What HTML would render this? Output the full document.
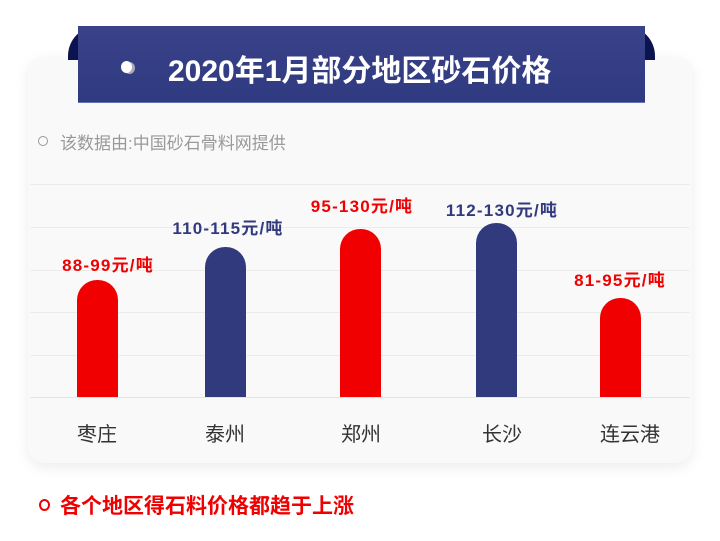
<!DOCTYPE html>
<html><head><meta charset="utf-8"><style>
body{margin:0;width:720px;height:541px;background:#fff;position:relative;overflow:hidden;font-family:"Liberation Sans","Noto Sans CJK SC",sans-serif}
.card{position:absolute;left:28px;top:57px;width:664px;height:406px;border-radius:16px;background:#f9f9f9;box-shadow:0 4px 14px rgba(0,0,0,0.08)}
.flap{position:absolute;top:26px;width:40px;height:34px;background:#0b1450}
.banner{position:absolute;left:78px;top:26px;width:567px;height:76px;background:linear-gradient(#3a4288,#2f3a80);border-bottom:1px solid #6870b0}
.title{position:absolute;left:168px;top:46px;color:#fff;font-size:30px;font-weight:bold;letter-spacing:0px}
.dot{position:absolute;left:121px;top:61px;width:11px;height:12px;border-radius:50%;background:#fff;box-shadow:3px 1px 0 #aab}
.grid{position:absolute;left:30px;width:660px;height:1px;background:#ececec}
.bar{position:absolute;width:41px;border-radius:20px 20px 0 0}
.r{background:#f00000}.b{background:#323a7e}
.lab{position:absolute;font-size:17px;font-weight:bold;width:180px;text-align:center;letter-spacing:1.2px}
.x{position:absolute;top:418px;font-size:20px;color:#333;width:120px;text-align:center}
</style></head><body>
<div class="card"></div>
<div class="flap" style="left:68px;border-radius:30px 0 0 0"></div>
<div class="flap" style="left:615px;border-radius:0 30px 0 0"></div>
<div class="banner"></div>
<div class="dot"></div>
<div class="title">2020年1月部分地区砂石价格</div>
<div style="position:absolute;left:38px;top:136px;width:8px;height:8px;border:1px solid #999;border-radius:50%"></div>
<div style="position:absolute;left:60px;top:129px;font-size:17px;color:#999">该数据由:中国砂石骨料网提供</div>
<div class="grid" style="top:184px"></div><div class="grid" style="top:227px"></div><div class="grid" style="top:270px"></div><div class="grid" style="top:312px"></div><div class="grid" style="top:355px"></div><div class="grid" style="top:397px;background:#e4e4e4"></div>
<div class="bar r" style="left:77px;top:280px;height:117px"></div>
<div class="bar b" style="left:205px;top:247px;height:150px"></div>
<div class="bar r" style="left:340px;top:229px;height:168px"></div>
<div class="bar b" style="left:476px;top:223px;height:174px"></div>
<div class="bar r" style="left:600px;top:298px;height:99px"></div>
<div class="lab" style="left:18px;top:251px;color:#f00000">88-99元/吨</div>
<div class="lab" style="left:138px;top:214px;color:#323a7e">110-115元/吨</div>
<div class="lab" style="left:272px;top:192px;color:#f00000">95-130元/吨</div>
<div class="lab" style="left:412px;top:196px;color:#323a7e">112-130元/吨</div>
<div class="lab" style="left:530px;top:266px;color:#f00000">81-95元/吨</div>
<div class="x" style="left:37px">枣庄</div>
<div class="x" style="left:165px">泰州</div>
<div class="x" style="left:301px">郑州</div>
<div class="x" style="left:442px">长沙</div>
<div class="x" style="left:570px">连云港</div>
<div style="position:absolute;left:39px;top:499px;width:7px;height:8px;border:2px solid #f00000;border-radius:50%"></div>
<div style="position:absolute;left:60px;top:490px;font-size:21px;font-weight:bold;color:#f00000">各个地区得石料价格都趋于上涨</div>
</body></html>
